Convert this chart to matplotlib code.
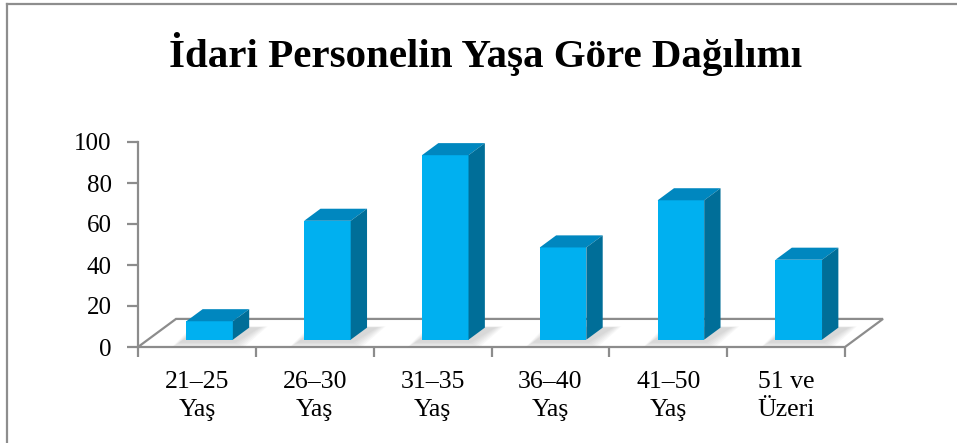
import numpy as np
import matplotlib
matplotlib.use('Agg')
import matplotlib.pyplot as plt
from matplotlib.patches import Polygon

plt.rcParams['font.family'] = ['Liberation Serif', 'DejaVu Serif']

categories = ['21–25\nYaş', '26–30\nYaş', '31–35\nYaş', '36–40\nYaş', '41–50\nYaş', '51 ve\nÜzeri']
values = [9, 58, 90, 45, 68, 39]
yticks = [0, 20, 40, 60, 80, 100]
title = 'İdari Personelin Yaşa Göre Dağılımı'

# 3d look (in data units)
DX, DY = 0.3226, 13.7      # floor depth
f0, f1 = 0.26, 0.69        # bar depth start / end as fraction of floor depth
bar_left, bar_w = 0.41, 0.395
front_c = '#00B0F0'
top_c = '#0087BF'
side_c = '#006E98'
line_c = '#8C8C8C'

W, H = 957, 443
fig = plt.figure(figsize=(W / 100, H / 100), dpi=100)

# chart border (left and top visible, rest cut off)
fig.add_artist(plt.Line2D([7 / W, 7 / W], [0, 1 - 4 / H], color='#8E8E8E', lw=1.6))
fig.add_artist(plt.Line2D([7 / W, 1], [1 - 4 / H, 1 - 4 / H], color='#8E8E8E', lw=1.6))

fig.text(486 / W, 1 - 67 / H, title, ha='center', va='baseline',
         fontsize=29.5, fontweight='bold')

ax = fig.add_axes([138 / W, (H - 347) / H, 707 / W, 205 / H])
ax.set_xlim(0, len(categories))
ax.set_ylim(0, 100)
for s in ['top', 'right', 'bottom']:
    ax.spines[s].set_visible(False)
ax.spines['left'].set_color(line_c)
ax.spines['left'].set_linewidth(1.6)
ax.patch.set_alpha(0)

n = len(categories)
# floor
floor = Polygon([(0, 0), (DX, DY), (n + DX, DY), (n, 0)], closed=True,
                facecolor='white', edgecolor=line_c, lw=1.6, clip_on=False, zorder=1)
ax.add_patch(floor)

y0 = f0 * DY
bdx = (f1 - f0) * DX
bdy = (f1 - f0) * DY
for i, v in enumerate(values):
    L = i + bar_left
    R = L + bar_w
    # soft shadow on the floor
    for k in range(6):
        e = 0.013 * (6 - k)
        ey = 0.5 * (6 - k)
        sh = Polygon([(L - 0.05 - e, y0 - 1.0 - ey), (R + 0.01 + e, y0 - 1.0 - ey),
                      (R + bdx + 0.08 + e, y0 + bdy + ey * 0.2),
                      (L + bdx - 0.01 - e, y0 + bdy + ey * 0.2)],
                     closed=True, facecolor='#808080', edgecolor='none',
                     alpha=0.055, clip_on=False, zorder=2)
        ax.add_patch(sh)
    ax.bar(L, v, width=bar_w, bottom=y0, align='edge', color=front_c,
           edgecolor='none', zorder=4, clip_on=False)
    top = Polygon([(L, y0 + v), (R, y0 + v), (R + bdx, y0 + v + bdy), (L + bdx, y0 + v + bdy)],
                  closed=True, facecolor=top_c, edgecolor='none', clip_on=False, zorder=4)
    side = Polygon([(R, y0), (R + bdx, y0 + bdy), (R + bdx, y0 + v + bdy), (R, y0 + v)],
                   closed=True, facecolor=side_c, edgecolor='none', clip_on=False, zorder=4)
    ax.add_patch(top)
    ax.add_patch(side)

ax.set_yticks(yticks)
ax.set_yticklabels([str(t) for t in yticks], fontsize=18)
ax.tick_params(axis='y', direction='out', length=8, width=1.6, color=line_c, pad=11)

ax.set_xticks(range(n + 1))
ax.set_xticklabels([''] * (n + 1))
ax.set_xticks(np.arange(n) + 0.5, minor=True)
ax.set_xticklabels(categories, minor=True, fontsize=18.5, linespacing=1.35)
ax.tick_params(axis='x', which='minor', length=0, pad=17)
ax.tick_params(axis='x', which='major', direction='out', length=7, width=1.6, color=line_c)

fig.savefig('out.png', dpi=100)
